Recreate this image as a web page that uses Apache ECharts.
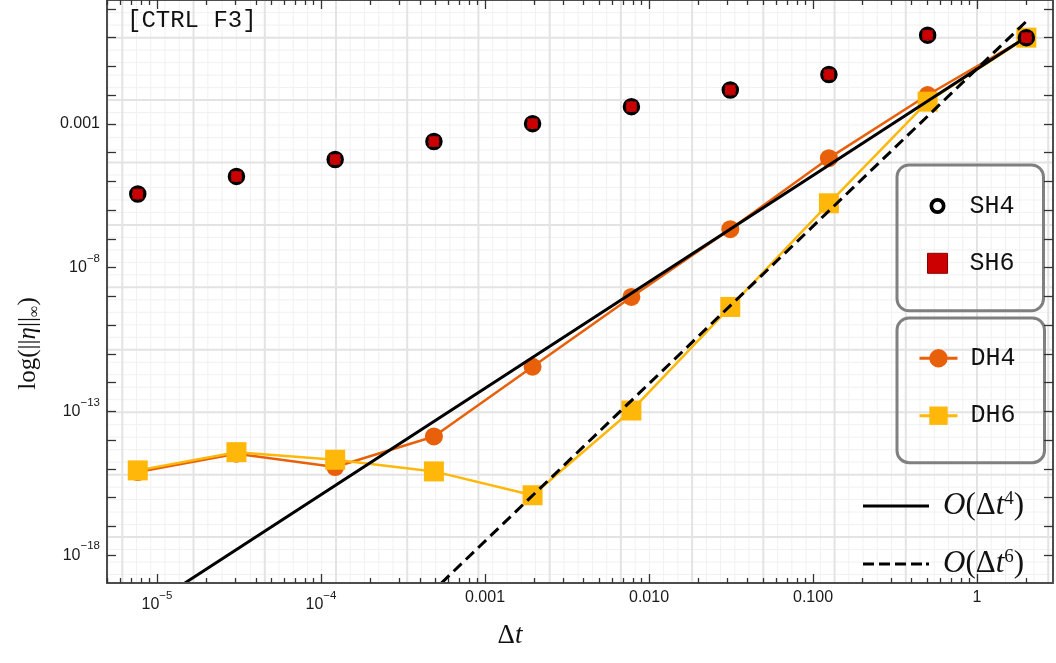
<!DOCTYPE html>
<html><head><meta charset="utf-8">
<script src="https://cdn.jsdelivr.net/npm/echarts@6/dist/echarts.min.js"></script>
<style>html,body{margin:0;padding:0;background:#fff}#c{width:1056px;height:663px}</style>
</head><body><div id="c"></div>
<script>
// ---- data ----
const dt  = [7.63e-6, 3.05e-5, 1.22e-4, 4.88e-4, 1.95e-3, 7.81e-3, 0.0313, 0.125, 0.5, 2];
const sh4 = [3.63e-6, 1.49e-5, 5.79e-5, 2.44e-4, 1.02e-3, 3.98e-3, 1.51e-2, 5.24e-2, 1.22, 1.0];
const sh6 = [3.63e-6, 1.49e-5, 5.79e-5, 2.44e-4, 1.02e-3, 3.98e-3, 1.51e-2, 5.24e-2, 1.22, 1.0];
const dh4 = [7.74e-16, 3.37e-15, 1.16e-15, 1.34e-14, 3.57e-12, 9.53e-10, 2.17e-7, 6.43e-5, 1.01e-2, 1.0];
const dh6 = [8.87e-16, 3.82e-15, 2.08e-15, 8.18e-16, 1.21e-16, 1.07e-13, 4.30e-10, 1.73e-6, 5.93e-3, 1.0];
const o4X = [1.48e-5, 2];
const o4Y = [1.07e-19, 1.06];
const o6X = [5.42e-4, 2];
const o6Y = [1.07e-19, 3.69];
// tick labels (log10 positions and texts)
const xLabelValues = [-5, -4, -3, -2, -1, 0];
const xLabelTexts  = ['{b|10}{e|−5}', '{b|10}{e|−4}', '{p|0.001}', '{p|0.010}', '{p|0.100}', '{p|1}'];
const yLabelValues = [-18, -13, -8, -3];
const yLabelTexts  = ['{b|10}{e|−18}', '{b|10}{e|−13}', '{b|10}{e|−8}', '{p|0.001}'];
const seriesNames = ['SH4', 'SH6', 'DH4', 'DH6', 'O(Δt^4)', 'O(Δt^6)'];

// ---- axis extents (log10 space) ----
const XMIN = -5.305, XMAX = 0.4634, YMIN = -18.969, YMAX = 1.309;
const L = Math.log10;

const xMajor = [], xMinor = [], yTicks = [];
for (let d = -6; d <= 1; d++) {
  if (d >= XMIN && d <= XMAX) xMajor.push(d);
  for (let k = 2; k <= 9; k++) { const v = d + L(k); if (v >= XMIN && v <= XMAX) xMinor.push(v); }
}
for (let d = -19; d <= 2; d++) if (d >= YMIN && d <= YMAX) yTicks.push(d);

// grid lines (natural-log spaced grid)
const E = Math.LOG10E;
const gridData = [];
for (let j = Math.ceil(XMIN / (E / 5)); j <= Math.floor(XMAX / (E / 5)); j++) if (j % 5 !== 0) gridData.push([j * E / 5, 0, 0]);
for (let j = Math.ceil(YMIN / (E)); j <= Math.floor(YMAX / E); j++) if (j % 5 !== 0) gridData.push([j * E, 1, 0]);
for (let j = Math.ceil(XMIN / E); j <= Math.floor(XMAX / E); j++) gridData.push([j * E, 0, 1]);
for (let j = Math.ceil(YMIN / (5 * E)); j <= Math.floor(YMAX / (5 * E)); j++) gridData.push([j * 5 * E, 1, 1]);

const toPts = (xs, ys) => xs.map((x, i) => [L(x), L(ys[i])]);

const tickFont = 'Liberation Sans';
const labelRich = {
  p: { fontSize: 16, lineHeight: 16, fontFamily: tickFont, color: '#1a1a1a' },
  b: { fontSize: 16, lineHeight: 30, fontFamily: tickFont, color: '#1a1a1a' },
  e: { fontSize: 11.5, lineHeight: 20, verticalAlign: 'top', fontFamily: tickFont, color: '#1a1a1a' }
};
const pick = (vals, texts) => (v) => { const i = vals.findIndex(a => Math.abs(a - v) < 1e-6); return i < 0 ? '' : texts[i]; };

const axisLineStyle = { color: '#4d4d4d', width: 2 };
const tickStyle = { color: '#333', width: 1.3 };
function xAx(pos, ticks, len, line, labels) {
  return {
    type: 'value', min: XMIN, max: XMAX, position: pos, z: 10,
    axisLine: { show: line, onZero: false, lineStyle: axisLineStyle },
    axisTick: { show: true, inside: true, length: len, customValues: ticks, lineStyle: tickStyle },
    axisLabel: labels ? { show: true, customValues: xLabelValues, formatter: pick(xLabelValues, xLabelTexts), margin: 6.5, rich: labelRich } : { show: false },
    splitLine: { show: false }, minorTick: { show: false }
  };
}
function yAx(pos, labels) {
  return {
    type: 'value', min: YMIN, max: YMAX, position: pos, z: 10,
    axisLine: { show: true, onZero: false, lineStyle: axisLineStyle },
    axisTick: { show: true, inside: true, length: 9, customValues: yTicks, lineStyle: tickStyle },
    axisLabel: labels ? { show: true, customValues: yLabelValues, formatter: pick(yLabelValues, yLabelTexts), margin: 7, rich: labelRich } : { show: false },
    splitLine: { show: false },
    name: labels ? '{n|log(||}{i|η}{n|||}{s|∞}{n|)}' : '',
    nameLocation: 'middle', nameGap: 64,
    nameTextStyle: {
      padding: [0, 104, 0, 0],
      rich: {
        n: { fontFamily: 'Liberation Serif', fontSize: 25, lineHeight: 30, color: '#111' },
        i: { fontFamily: 'Liberation Serif', fontStyle: 'italic', fontSize: 25, lineHeight: 30, color: '#111' },
        s: { fontFamily: 'Liberation Serif', fontSize: 16, lineHeight: 16, verticalAlign: 'bottom', color: '#111' }
      }
    }
  };
}

const ringPath = 'path://M-10,-10M10,10M-8,0a8,8 0 1,0 16,0a8,8 0 1,0 -16,0zM-4.3,0a4.3,4.3 0 1,1 8.6,0a4.3,4.3 0 1,1 -8.6,0z';
const squarePath = 'path://M0,0h10v10h-10z';
const dashPath = 'path://M0,0h11v3h-11zM16,0h11v3h-11zM32,0h11v3h-11zM48,0h11v3h-11zM63,0h3v3h-3z';
const mathRich = {
  o: { fontFamily: 'Liberation Serif', fontStyle: 'italic', fontSize: 31, lineHeight: 32, color: '#111' },
  p: { fontFamily: 'Liberation Serif', fontSize: 31, lineHeight: 32, color: '#111' },
  t: { fontFamily: 'Liberation Serif', fontStyle: 'italic', fontSize: 31, lineHeight: 32, color: '#111' },
  s: { fontFamily: 'Liberation Serif', fontSize: 19, lineHeight: 19, verticalAlign: 'top', color: '#111' }
};
const mathText = { 'O(Δt^4)': '{o|O}{p|(Δ}{t|t}{s|4}{p|)}', 'O(Δt^6)': '{o|O}{p|(Δ}{t|t}{s|6}{p|)}' };

const legendBox = { orient: 'vertical', borderColor: '#808080', borderWidth: 3, borderRadius: 12, selectedMode: false };
const monoText = (lh, pad) => ({ fontFamily: 'Liberation Mono', fontSize: 25, lineHeight: lh, color: '#111', padding: [0, 0, 0, pad] });

const option = {
  animation: false,
  backgroundColor: '#fff',
  title: { text: '[CTRL F3]', left: 127, top: 9, padding: 0,
    textStyle: { fontFamily: 'Liberation Mono', fontSize: 24, fontWeight: 'normal', lineHeight: 24, color: '#111' } },
  grid: { left: 107, right: 3, top: -2, bottom: 80 },
  xAxis: [
    Object.assign(xAx('bottom', xMajor, 9, true, true), {
      name: '{d|Δ}{t|t}', nameLocation: 'middle', nameGap: 38,
      nameTextStyle: { padding: [0, 140, 0, 0], rich: {
        d: { fontFamily: 'Liberation Serif', fontSize: 27, lineHeight: 30, color: '#111' },
        t: { fontFamily: 'Liberation Serif', fontStyle: 'italic', fontSize: 27, lineHeight: 30, color: '#111' } } }
    }),
    xAx('bottom', xMinor, 5, false, false),
    xAx('top', xMajor, 9, true, false),
    xAx('top', xMinor, 5, false, false)
  ],
  yAxis: [yAx('left', true), yAx('right', false)],
  legend: [
    Object.assign({}, legendBox, {
      left: 897, top: 165, padding: [28.5, 29, 35, 30], itemGap: 32.3, itemWidth: 40, itemHeight: 20,
      data: [{ name: 'SH4', icon: ringPath, itemStyle: { color: '#000', borderWidth: 0 } },
             { name: 'SH6', icon: squarePath, itemStyle: { color: '#cc0000', borderColor: '#8a0000', borderWidth: 1 } }],
      textStyle: monoText(20, 7)
    }),
    Object.assign({}, legendBox, {
      left: 897, top: 318, padding: [27.8, 29, 34.5, 21], itemGap: 32.4, itemWidth: 38, itemHeight: 23,
      lineStyle: { width: 3 },
      data: ['DH4', 'DH6'],
      textStyle: monoText(23, 8)
    }),
    {
      orient: 'vertical', left: 863, top: 490, padding: 0, itemGap: 26, itemWidth: 66, itemHeight: 3,
      selectedMode: false, symbolKeepAspect: false,
      data: [{ name: 'O(Δt^4)', icon: 'path://M0,0h66v3h-66z' }, { name: 'O(Δt^6)', icon: dashPath }],
      formatter: (n) => mathText[n],
      textStyle: { padding: [0, 0, 0, 9], lineHeight: 32, rich: mathRich }
    }
  ],
  series: [
    { type: 'custom', name: 'grid', silent: true, z: 1, data: gridData, encode: { x: 0, y: 1 },
      renderItem: (params, api) => {
        const cs = params.coordSys;
        const v = api.value(0), o = api.value(1), major = api.value(2);
        let shape;
        if (o === 0) { const x = api.coord([v, 0])[0]; shape = { x1: x, y1: cs.y, x2: x, y2: cs.y + cs.height }; }
        else { const y = api.coord([0, v])[1]; shape = { x1: cs.x, y1: y, x2: cs.x + cs.width, y2: y }; }
        return { type: 'line', shape, silent: true,
          style: { stroke: major ? '#e3e3e3' : '#f1f1f1', lineWidth: major ? 2 : 1 } };
      } },
    { type: 'line', name: seriesNames[2], data: toPts(dt, dh4), z: 3, symbol: 'circle', symbolSize: 18,
      lineStyle: { color: '#e8600a', width: 2.5 }, itemStyle: { color: '#e8600a' } },
    { type: 'line', name: seriesNames[3], data: toPts(dt, dh6), z: 4, symbol: 'rect', symbolSize: 20,
      lineStyle: { color: '#ffb80a', width: 2.5 }, itemStyle: { color: '#ffb80a' } },
    { type: 'line', name: seriesNames[4], data: toPts(o4X, o4Y), z: 5, symbol: 'none', clip: true,
      lineStyle: { color: '#000', width: 3 }, itemStyle: { color: '#000' } },
    { type: 'line', name: seriesNames[5], data: toPts(o6X, o6Y), z: 6, symbol: 'none', clip: true,
      lineStyle: { color: '#000', width: 3, type: [11, 6] }, itemStyle: { color: '#000' } },
    { type: 'scatter', name: seriesNames[0], data: toPts(dt, sh4), z: 7, symbol: 'circle', symbolSize: 14,
      itemStyle: { color: '#fff', borderColor: '#000', borderWidth: 3.5, opacity: 1 } },
    { type: 'scatter', name: seriesNames[1], data: toPts(dt, sh6), z: 8, symbol: 'rect', symbolSize: 10,
      itemStyle: { color: '#cc0000', borderColor: '#8a0000', borderWidth: 0.8, opacity: 1 } }
  ]
};
echarts.init(document.getElementById('c')).setOption(option);
</script>
</body></html>
